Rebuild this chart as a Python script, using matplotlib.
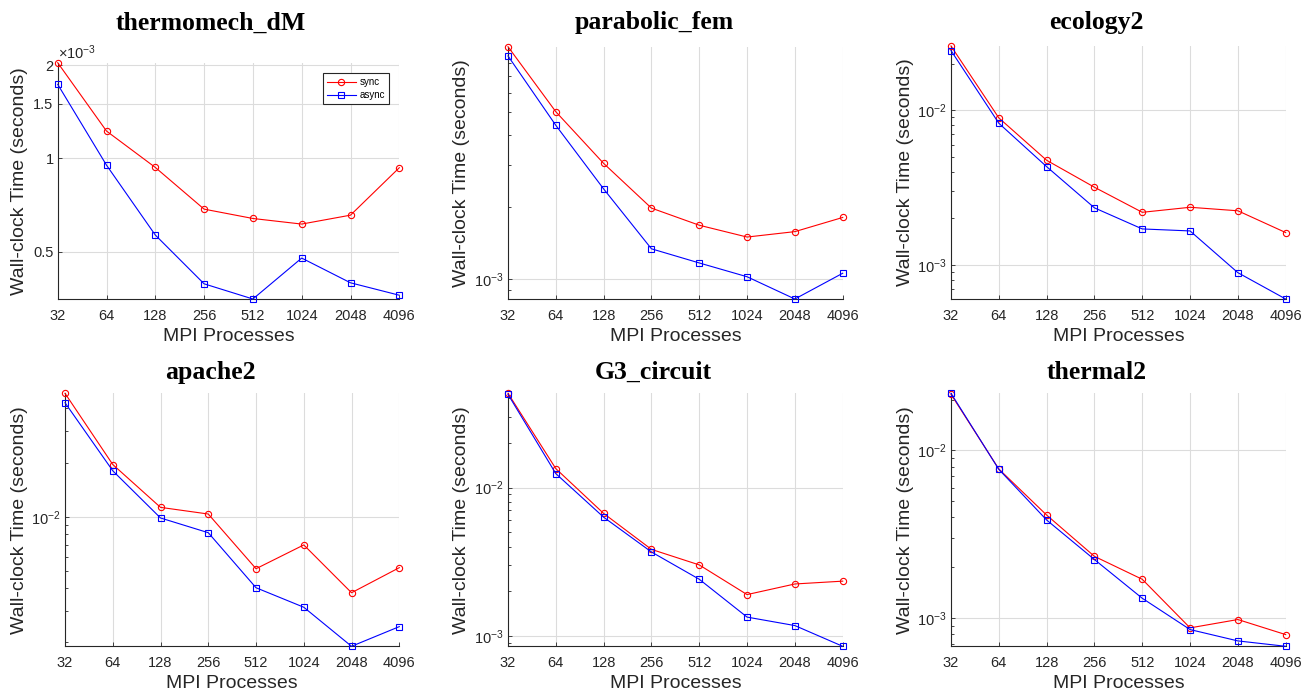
import matplotlib
matplotlib.use("Agg")
import matplotlib.pyplot as plt
from matplotlib.ticker import LogLocator, NullLocator, NullFormatter

plt.rcParams['font.family'] = ['Liberation Sans', 'DejaVu Sans']
plt.rcParams['mathtext.default'] = 'regular'

# MPI process counts (x axis)
procs = [32, 64, 128, 256, 512, 1024, 2048, 4096]
proc_labels = [str(p) for p in procs]

# wall-clock times (seconds)
thermomech_sync = [2.035e-3, 1.225e-3, 0.935e-3, 0.686e-3, 0.640e-3, 0.614e-3, 0.656e-3, 0.933e-3]
thermomech_async = [1.733e-3, 0.951e-3, 0.566e-3, 0.394e-3, 0.352e-3, 0.477e-3, 0.397e-3, 0.362e-3]

parabolic_sync = [9.31e-3, 4.99e-3, 3.04e-3, 1.98e-3, 1.68e-3, 1.50e-3, 1.58e-3, 1.81e-3]
parabolic_async = [8.52e-3, 4.38e-3, 2.38e-3, 1.34e-3, 1.17e-3, 1.025e-3, 0.828e-3, 1.06e-3]

ecology_sync = [26.0e-3, 8.92e-3, 4.75e-3, 3.18e-3, 2.19e-3, 2.36e-3, 2.24e-3, 1.62e-3]
ecology_async = [24.3e-3, 8.24e-3, 4.32e-3, 2.34e-3, 1.71e-3, 1.66e-3, 0.892e-3, 0.603e-3]

apache_sync = [4.85e-2, 1.95e-2, 1.127e-2, 1.035e-2, 5.14e-3, 6.97e-3, 3.78e-3, 5.21e-3]
apache_async = [4.30e-2, 1.80e-2, 0.984e-2, 8.15e-3, 4.03e-3, 3.14e-3, 1.905e-3, 2.45e-3]

g3_sync = [43.1e-3, 13.4e-3, 6.69e-3, 3.83e-3, 3.01e-3, 1.90e-3, 2.24e-3, 2.34e-3]
g3_async = [42.4e-3, 12.4e-3, 6.31e-3, 3.68e-3, 2.41e-3, 1.34e-3, 1.175e-3, 0.852e-3]

thermal_sync = [21.6e-3, 7.74e-3, 4.11e-3, 2.33e-3, 1.70e-3, 0.872e-3, 0.978e-3, 0.795e-3]
thermal_async = [21.9e-3, 7.70e-3, 3.84e-3, 2.23e-3, 1.31e-3, 0.852e-3, 0.729e-3, 0.677e-3]

titles = ["thermomech_dM", "parabolic_fem", "ecology2", "apache2", "G3_circuit", "thermal2"]
sync_data = [thermomech_sync, parabolic_sync, ecology_sync, apache_sync, g3_sync, thermal_sync]
async_data = [thermomech_async, parabolic_async, ecology_async, apache_async, g3_async, thermal_async]

# thermomech_dM uses plain labels with a x10^-3 multiplier
thermo_yticks = [0.5e-3, 1e-3, 1.5e-3, 2e-3]
thermo_ylabels = ["0.5", "1", "1.5", "2"]

W, H = 1315, 698
fig = plt.figure(figsize=(W / 100, H / 100), dpi=100)

# axes boxes in pixels: left, top, right, bottom
boxes = [(57.7, 62.7, 399.3, 299), (508, 46.7, 842.7, 299), (951, 46, 1285.7, 299),
         (65, 393.3, 399.3, 646.3), (508, 393.3, 842.7, 646.3), (951, 393.3, 1285.7, 646.3)]
ylabel_x = [19.3, 461.7, 905.7, 19.3, 461.7, 905.7]
xlabel_y = [336.7, 336.7, 336.7, 683.3, 683.3, 683.3]
title_pos = [(210.8, 23), (653.8, 23), (1096.7, 23), (210.8, 372.7), (653.7, 372.7), (1096.8, 372.7)]

dark = '#262626'

for i in range(6):
    l, t, r, b = boxes[i]
    ax = fig.add_axes([l / W, 1 - b / H, (r - l) / W, (b - t) / H])
    ax.plot(procs, sync_data[i], '-o', color='red', mfc='none', ms=4.5, mew=0.8, lw=0.8,
            clip_on=False, zorder=3, label='sync')
    ax.plot(procs, async_data[i], '-s', color='blue', mfc='none', ms=4, mew=0.8, lw=0.8,
            clip_on=False, zorder=3, label='async')

    ax.set_xscale('log', base=2)
    ax.set_yscale('log')
    ax.set_xlim(procs[0], procs[-1])
    allv = sync_data[i] + async_data[i]
    ax.set_ylim(min(allv), max(allv))

    ax.set_xticks(procs)
    ax.set_xticklabels(proc_labels)
    ax.xaxis.set_minor_locator(NullLocator())

    if i == 0:
        ax.set_yticks(thermo_yticks)
        ax.set_yticklabels(thermo_ylabels)
        ax.yaxis.set_minor_locator(NullLocator())
    else:
        ax.yaxis.set_major_locator(LogLocator(base=10))
        ax.yaxis.set_minor_locator(LogLocator(base=10, subs=range(2, 10)))
        ax.yaxis.set_minor_formatter(NullFormatter())

    ax.grid(True, which='major', color='#dcdcdc', lw=0.8)
    ax.set_axisbelow(True)
    for s in ['top', 'right']:
        ax.spines[s].set_visible(False)
    for s in ['left', 'bottom']:
        ax.spines[s].set_color(dark)
        ax.spines[s].set_linewidth(0.8)
    ax.tick_params(which='both', direction='in', colors=dark, labelsize=10.5, width=0.6)
    ax.tick_params(which='major', length=3)
    ax.tick_params(which='minor', length=2)
    ax.tick_params(axis='x', pad=7)
    ax.tick_params(axis='y', pad=3)

    h = b - t
    w = r - l
    ax.set_xlabel("MPI Processes", fontsize=14, color=dark, va='center')
    ax.xaxis.set_label_coords(0.5, (b - xlabel_y[i]) / h)
    ax.set_ylabel("Wall-clock Time (seconds)", fontsize=14, color=dark, va='center')
    ax.yaxis.set_label_coords((ylabel_x[i] - l) / w, 0.5)

    tx, ty = title_pos[i]
    fig.text(tx / W, 1 - ty / H, titles[i], ha='center', va='center',
             family='Liberation Serif', weight='bold', fontsize=18.5)

    if i == 0:
        fig.text(58.5 / W, 1 - 62 / H, '×10$^{-3}$', ha='left', va='bottom',
                 fontsize=10.5, color=dark)
        leg = ax.legend(loc='upper right', bbox_to_anchor=(389.3 / W, 1 - 73.3 / H),
                        bbox_transform=fig.transFigure, fontsize=7, fancybox=False,
                        edgecolor=dark, framealpha=1, borderaxespad=0, handlelength=3,
                        borderpad=0.4, labelspacing=0.3, handletextpad=0.4)
        leg.get_frame().set_linewidth(0.8)

fig.savefig("out.png", dpi=100)
